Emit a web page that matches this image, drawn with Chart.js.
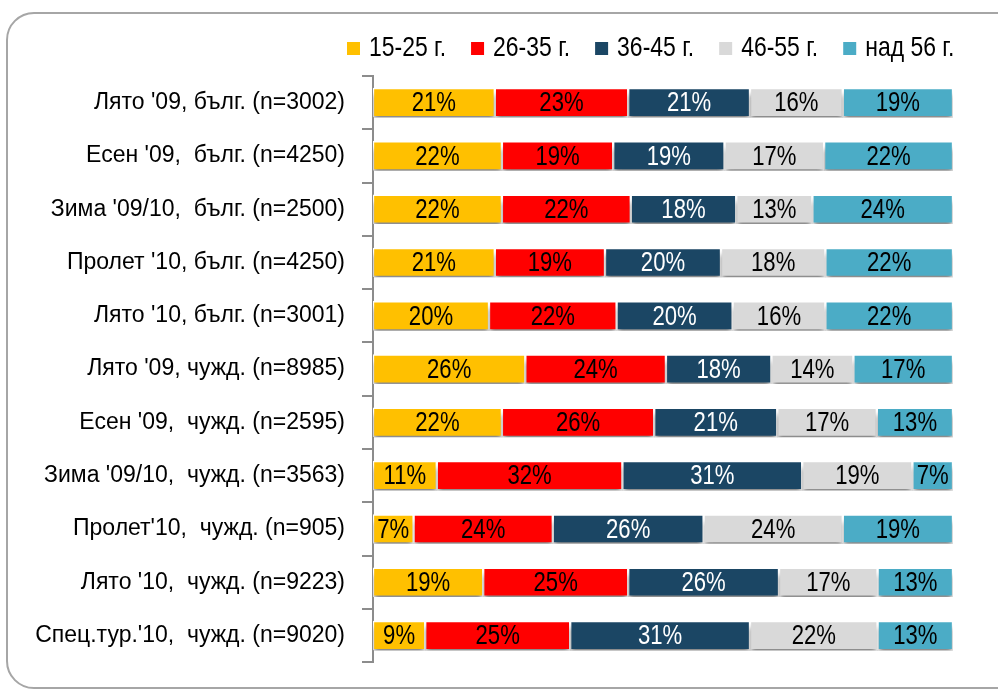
<!DOCTYPE html>
<html>
<head>
<meta charset="utf-8">
<script src="https://cdn.jsdelivr.net/npm/chart.js@4/dist/chart.umd.min.js"></script>
<style>
  html, body { margin:0; padding:0; width:998px; height:693px; overflow:hidden; background:#fff; }
  #card { position:absolute; left:6px; top:12px; width:1040px; height:677px; border:2px solid #a6a6a6; border-radius:28px; box-sizing:border-box; }
  #wrap { position:absolute; left:0; top:0; width:998px; height:693px; }
</style>
</head>
<body>
<div id="card"></div>
<div id="wrap"><canvas id="c" width="998" height="693"></canvas></div>
<script>
const categories = [
  "Лято '09, бълг. (n=3002)",
  "Есен '09,  бълг. (n=4250)",
  "Зима '09/10,  бълг. (n=2500)",
  "Пролет '10, бълг. (n=4250)",
  "Лято '10, бълг. (n=3001)",
  "Лято '09, чужд. (n=8985)",
  "Есен '09,  чужд. (n=2595)",
  "Зима '09/10,  чужд. (n=3563)",
  "Пролет'10,  чужд. (n=905)",
  "Лято '10,  чужд. (n=9223)",
  "Спец.тур.'10,  чужд. (n=9020)"
];
const seriesNames = ["15-25 г.", "26-35 г.", "36-45 г.", "46-55 г.", "над 56 г."];
const age15_25 = [21, 22, 22, 21, 20, 26, 22, 11, 7, 19, 9];
const age26_35 = [23, 19, 22, 19, 22, 24, 26, 32, 24, 25, 25];
const age36_45 = [21, 19, 18, 20, 20, 18, 21, 31, 26, 26, 31];
const age46_55 = [16, 17, 13, 18, 16, 14, 17, 19, 24, 17, 22];
const age56plus = [19, 22, 24, 22, 22, 17, 13, 7, 19, 13, 13];

const series = [age15_25, age26_35, age36_45, age46_55, age56plus];
const colors = ["#FFC000", "#FF0000", "#1B4664", "#D9D9D9", "#4BACC6"];
const labelColors = ["#000", "#000", "#fff", "#000", "#000"];
const totals = categories.map((_, i) => series.reduce((s, a) => s + a[i], 0));

const FONT = "'Liberation Sans', Arial, sans-serif";

const datasets = series.map((arr, k) => ({
  label: seriesNames[k],
  data: arr.map((v, i) => v / totals[i] * 100),
  raw: arr,
  backgroundColor: colors[k],
  borderColor: "#ffffff",
  borderWidth: 1.5,
  borderSkipped: false,
  barThickness: 29
}));

function condensedText(ctx, text, x, y, sx) {
  ctx.save();
  ctx.translate(x, y);
  ctx.scale(sx, 1);
  ctx.fillText(text, 0, 0);
  ctx.restore();
}

const shadowPlugin = {
  id: 'shadow',
  beforeDatasetsDraw(chart) {
    const ctx = chart.ctx;
    ctx.save();
    ctx.shadowColor = 'rgba(0,0,0,0.45)';
    ctx.shadowBlur = 5;
    ctx.shadowOffsetX = 0;
    ctx.shadowOffsetY = 6;
  },
  afterDatasetsDraw(chart) {
    chart.ctx.restore();
  }
};

const labelPlugin = {
  id: 'vlabels',
  afterDatasetsDraw(chart) {
    const ctx = chart.ctx;
    ctx.save();
    ctx.font = "28px " + FONT;
    ctx.textAlign = 'center';
    ctx.textBaseline = 'middle';
    chart.data.datasets.forEach((ds, k) => {
      const meta = chart.getDatasetMeta(k);
      meta.data.forEach((bar, i) => {
        const p = bar.getProps(['x', 'y', 'base'], true);
        const cx = (p.x + p.base) / 2;
        ctx.fillStyle = labelColors[k];
        condensedText(ctx, ds.raw[i] + '%', cx, p.y + 1, 0.79);
      });
    });
    ctx.restore();
  }
};

const legendPlugin = {
  id: 'customLegend',
  afterDraw(chart) {
    const ctx = chart.ctx;
    const sx = 0.82;
    ctx.save();
    ctx.font = "28px " + FONT;
    ctx.textAlign = 'left';
    ctx.textBaseline = 'middle';
    let x = 347;
    const yMid = 48;
    chart.data.datasets.forEach((ds) => {
      ctx.fillStyle = ds.backgroundColor;
      ctx.fillRect(x, yMid - 6, 13, 13);
      x += 13 + 9;
      ctx.fillStyle = '#000';
      condensedText(ctx, ds.label, x, yMid, sx);
      x += ctx.measureText(ds.label).width * sx + 25;
    });
    ctx.restore();
  }
};

new Chart(document.getElementById('c'), {
  type: 'bar',
  data: { labels: categories, datasets },
  options: {
    indexAxis: 'y',
    responsive: false,
    animation: false,
    layout: { padding: { top: 76, right: 45, bottom: 29, left: 0 } },
    scales: {
      x: {
        stacked: true, min: 0, max: 100, display: false
      },
      y: {
        stacked: true,
        offset: true,
        afterFit(scale) { scale.width = 373; },
        border: { display: true, color: '#8c8c8c', width: 2 },
        grid: { offset: true, drawOnChartArea: false, drawTicks: true, tickLength: 11, color: '#8c8c8c', lineWidth: 2 },
        ticks: { color: '#000', padding: 17, font: { family: FONT, size: 23 } }
      }
    },
    plugins: {
      legend: { display: false },
      tooltip: { enabled: false }
    }
  },
  plugins: [shadowPlugin, labelPlugin, legendPlugin]
});
</script>
</body>
</html>
